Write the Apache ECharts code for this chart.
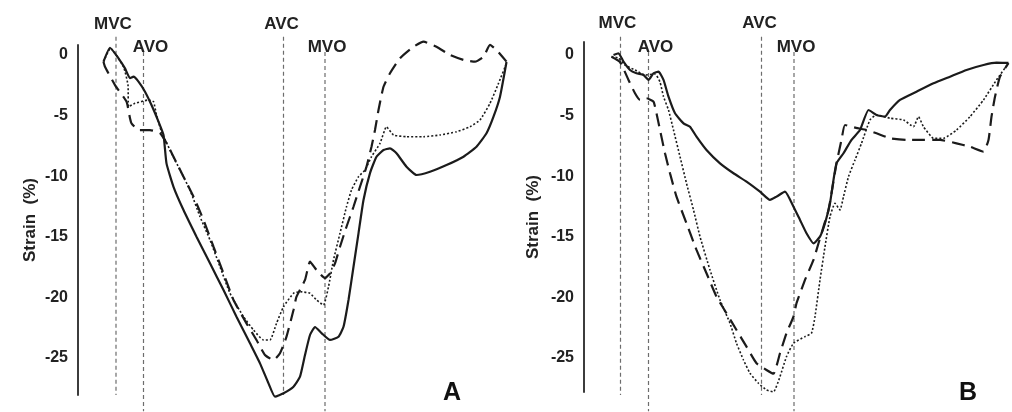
<!DOCTYPE html>
<html>
<head>
<meta charset="utf-8">
<script src="https://cdn.jsdelivr.net/npm/echarts@6/dist/echarts.min.js"></script>
<style>
  html, body { margin: 0; padding: 0; background: #ffffff; }
  #chart { width: 1012px; height: 412px; }
</style>
</head>
<body>
<div id="chart"></div>
<script>
// Longitudinal strain (%) over one cardiac cycle, time in ms.
// Three traces per panel: solid, long-dashed and dotted.

const yTicks = [0, -5, -10, -15, -20, -25];
const eventNames = ['MVC', 'AVO', 'AVC', 'MVO'];

// Panel A
const eventTimesA = [76, 131, 411, 494];
const solidA = [
  [51, -0.55], [64, 0.6], [81, -0.27], [94, -1.1], [104, -1.92], [111, -1.79],
  [121, -2.2], [134, -3.03], [147, -4.13], [161, -5.5], [171, -6.6],
  [177, -8.94], [191, -10.87], [211, -12.79], [237, -14.99], [264, -17.19],
  [291, -19.39], [317, -21.59], [344, -23.79], [364, -25.44], [381, -27.09],
  [394, -28.19], [411, -27.91], [431, -27.37], [444, -26.54], [454, -24.75],
  [464, -23.1], [474, -22.44], [487, -22.94], [504, -23.51], [521, -23.24],
  [531, -22.42], [541, -20.21], [551, -17.47], [561, -14.71], [571, -11.96],
  [584, -9.74], [597, -8.39], [611, -7.84], [624, -7.7], [637, -8.11],
  [657, -9.22], [677, -9.9], [704, -9.63], [737, -9.08], [771, -8.39],
  [797, -7.57], [817, -6.46], [831, -5.09], [844, -3.44], [857, -0.58]
];
const dashedA = [
  [51, -0.55], [54, -0.97], [74, -2.48], [97, -3.85], [104, -5.22], [107, -5.64],
  [121, -6.19], [144, -6.19], [164, -6.44], [177, -7.26], [191, -8.39],
  [211, -10.04], [231, -11.69], [251, -13.61], [271, -15.82], [291, -18.01],
  [311, -20.21], [337, -22.14], [357, -23.51], [374, -24.75], [391, -25.17],
  [404, -24.61], [417, -23.24], [431, -21.04], [437, -19.94], [454, -18.56],
  [464, -17.05], [477, -17.74], [494, -18.42], [504, -18.01], [514, -17.19],
  [524, -15.82], [537, -14.17], [551, -12.52], [564, -10.87], [577, -9.22],
  [587, -7.57], [594, -6.19], [601, -4.54], [611, -2.62], [624, -1.51],
  [644, -0.27], [671, 0.68], [691, 1.1], [717, 0.68], [744, 0.0], [771, -0.41],
  [794, -0.55], [811, -0.14], [824, 0.83], [837, 0.41], [857, -0.55]
];
const dottedA = [
  [51, -0.55], [65, 0.55], [91, -0.97], [100, -2.48], [101, -4.27], [114, -3.99],
  [141, -3.71], [151, -3.85], [157, -4.95], [167, -6.33], [184, -7.84],
  [204, -9.49], [224, -11.14], [244, -13.34], [264, -15.26], [284, -17.47],
  [304, -19.66], [331, -21.59], [351, -22.69], [371, -23.51], [384, -23.51],
  [397, -22.14], [411, -20.77], [431, -19.66], [444, -19.53], [464, -19.66],
  [477, -20.21], [491, -20.63], [501, -19.12], [511, -16.91], [524, -14.71],
  [537, -12.52], [547, -11.14], [561, -10.04], [574, -9.49], [587, -8.39],
  [604, -7.29], [617, -5.92], [631, -6.6], [657, -6.74], [691, -6.74],
  [724, -6.6], [757, -6.33], [784, -5.92], [804, -5.36], [824, -3.99],
  [841, -2.34], [857, -0.68]
];

// Panel B
const eventTimesB = [73, 129, 355, 420];
const solidB = [
  [59, 0.0], [69, 0.14], [79, -0.55], [92, -1.24], [105, -1.51], [119, -1.65],
  [129, -2.06], [139, -1.51], [149, -1.38], [159, -2.06], [169, -3.44],
  [182, -4.81], [199, -5.64], [212, -5.92], [225, -6.74], [245, -7.84],
  [272, -8.94], [299, -9.76], [325, -10.45], [352, -11.28], [372, -11.96],
  [385, -11.69], [402, -11.28], [419, -12.52], [432, -13.61], [445, -14.71],
  [459, -15.54], [472, -14.99], [482, -13.89], [492, -12.24], [499, -10.31],
  [505, -8.94], [519, -8.11], [535, -7.01], [552, -6.19], [569, -4.54],
  [585, -4.95], [602, -5.09], [612, -4.54], [632, -3.71], [665, -3.03],
  [699, -2.34], [732, -1.79], [765, -1.24], [799, -0.83], [825, -0.64], [849, -0.66]
];
const dashedB = [
  [55, -0.14], [72, -0.58], [89, -2.06], [102, -3.16], [112, -3.71], [125, -3.57],
  [139, -3.85], [145, -4.81], [152, -6.19], [162, -8.11], [172, -9.76],
  [185, -11.69], [205, -13.89], [225, -16.09], [245, -18.01], [265, -19.94],
  [285, -21.31], [305, -22.69], [325, -24.07], [345, -25.44], [365, -25.99],
  [379, -26.3], [392, -24.61], [405, -22.96], [419, -21.59], [425, -20.49],
  [442, -18.56], [459, -16.91], [469, -15.54], [479, -14.17], [489, -12.79],
  [495, -11.41], [505, -8.94], [515, -7.01], [522, -5.78], [544, -6.02],
  [565, -6.19], [585, -6.46], [612, -6.87], [645, -7.01], [679, -7.01],
  [712, -7.01], [745, -7.29], [772, -7.57], [799, -7.98], [809, -7.01],
  [815, -5.09], [822, -3.44], [832, -1.79], [849, -0.68]
];
const dottedB = [
  [55, -0.14], [69, -0.25], [82, -0.83], [102, -1.24], [122, -1.65], [142, -1.57],
  [152, -2.23], [159, -3.44], [169, -4.54], [179, -6.19], [192, -8.39],
  [205, -10.59], [219, -12.79], [232, -14.99], [252, -17.74], [272, -20.21],
  [292, -22.14], [305, -23.79], [319, -25.17], [332, -26.26], [349, -27.09],
  [365, -27.64], [379, -27.8], [392, -26.54], [405, -24.89], [419, -23.79],
  [442, -23.24], [455, -22.96], [462, -21.59], [472, -18.56], [482, -15.82],
  [492, -13.34], [502, -12.24], [512, -12.79], [519, -11.69], [529, -10.04],
  [542, -8.66], [555, -7.29], [572, -5.36], [585, -4.95], [612, -5.22],
  [639, -5.36], [659, -5.92], [669, -5.09], [679, -5.92], [699, -6.87],
  [719, -6.87], [745, -6.19], [772, -5.09], [799, -3.71], [825, -2.06], [849, -0.68]
];

const FONT = "'Liberation Sans', Arial, sans-serif";
const INK = '#1b1b1b';

// Drawing styles for the three traces
const traceStyles = [
  { width: 2.2, type: 'solid' },
  { width: 2.2, type: [13, 7] },
  { width: 1.6, type: [2, 2] }
];

// Vertical event markers: labels alternate between a high and a low row
const eventLayout = [
  { span: [1.5, -28.05], dist: 4, dx: -3 },   // MVC
  { span: [0.25, -29.4], dist: -4, dx: 7 },   // AVO
  { span: [1.5, -28.05], dist: 4, dx: -2 },   // AVC
  { span: [0.25, -29.4], dist: -4, dx: 2 }    // MVO
];

const panels = [
  { left: 78, top: 45, width: 432, yMin: -28.05, yMax: 0.825, tMax: 864, nameGap: 39,
    times: eventTimesA, traces: [solidA, dashedA, dottedA], tag: 'A', tagLeft: 443 },
  { left: 584, top: 42, width: 428, yMin: -27.81, yMax: 1.07, tMax: 856, nameGap: 42,
    times: eventTimesB, traces: [solidB, dashedB, dottedB], tag: 'B', tagLeft: 959 }
];

const grid = [], xAxis = [], yAxis = [], series = [], title = [];

panels.forEach((p, i) => {
  grid.push({ left: p.left, top: p.top, width: p.width, height: 350 });
  xAxis.push({ type: 'value', gridIndex: i, min: 0, max: p.tMax, show: false });
  yAxis.push({
    type: 'value', gridIndex: i, min: p.yMin, max: p.yMax,
    axisLine: { show: true, lineStyle: { color: '#3c3c3c', width: 2 } },
    axisTick: { show: false },
    splitLine: { show: false },
    axisLabel: {
      customValues: yTicks,
      formatter: v => (Math.abs(v % 5) < 1e-9 ? String(Math.round(v)) : ''),
      margin: 10, color: '#222', fontFamily: FONT, fontWeight: 'bold', fontSize: 16
    },
    name: 'Strain  (%)', nameLocation: 'middle', nameRotate: 90, nameGap: p.nameGap,
    nameTextStyle: { color: '#222', fontFamily: FONT, fontWeight: 'bold', fontSize: 17 }
  });

  // event markers
  p.times.forEach((t, k) => {
    const lay = eventLayout[k];
    series.push({
      type: 'line', xAxisIndex: i, yAxisIndex: i, clip: false, silent: true,
      symbol: 'circle', symbolSize: 1, itemStyle: { color: 'rgba(0,0,0,0)' },
      lineStyle: { color: '#6d6d6d', width: 1.2, type: [4, 3] },
      data: [
        { value: [t, lay.span[0]],
          label: { show: true, position: 'top', distance: lay.dist, offset: [lay.dx, 0],
                   formatter: eventNames[k], color: '#222', fontFamily: FONT,
                   fontWeight: 'bold', fontSize: 17 } },
        { value: [t, lay.span[1]] }
      ],
      z: 1
    });
  });

  // strain traces
  p.traces.forEach((d, k) => {
    series.push({
      type: 'line', xAxisIndex: i, yAxisIndex: i, clip: false, silent: true,
      showSymbol: false, smooth: 0.15, data: d,
      lineStyle: { color: INK, width: traceStyles[k].width, type: traceStyles[k].type },
      z: 3
    });
  });

  title.push({
    text: p.tag, left: p.tagLeft, top: 381, padding: 0,
    textStyle: { color: '#111', fontFamily: FONT, fontWeight: 'bold', fontSize: 25 }
  });
});

const chart = echarts.init(document.getElementById('chart'), null, { renderer: 'canvas' });
chart.setOption({
  animation: false,
  backgroundColor: '#ffffff',
  title, grid, xAxis, yAxis, series
});
</script>
</body>
</html>
